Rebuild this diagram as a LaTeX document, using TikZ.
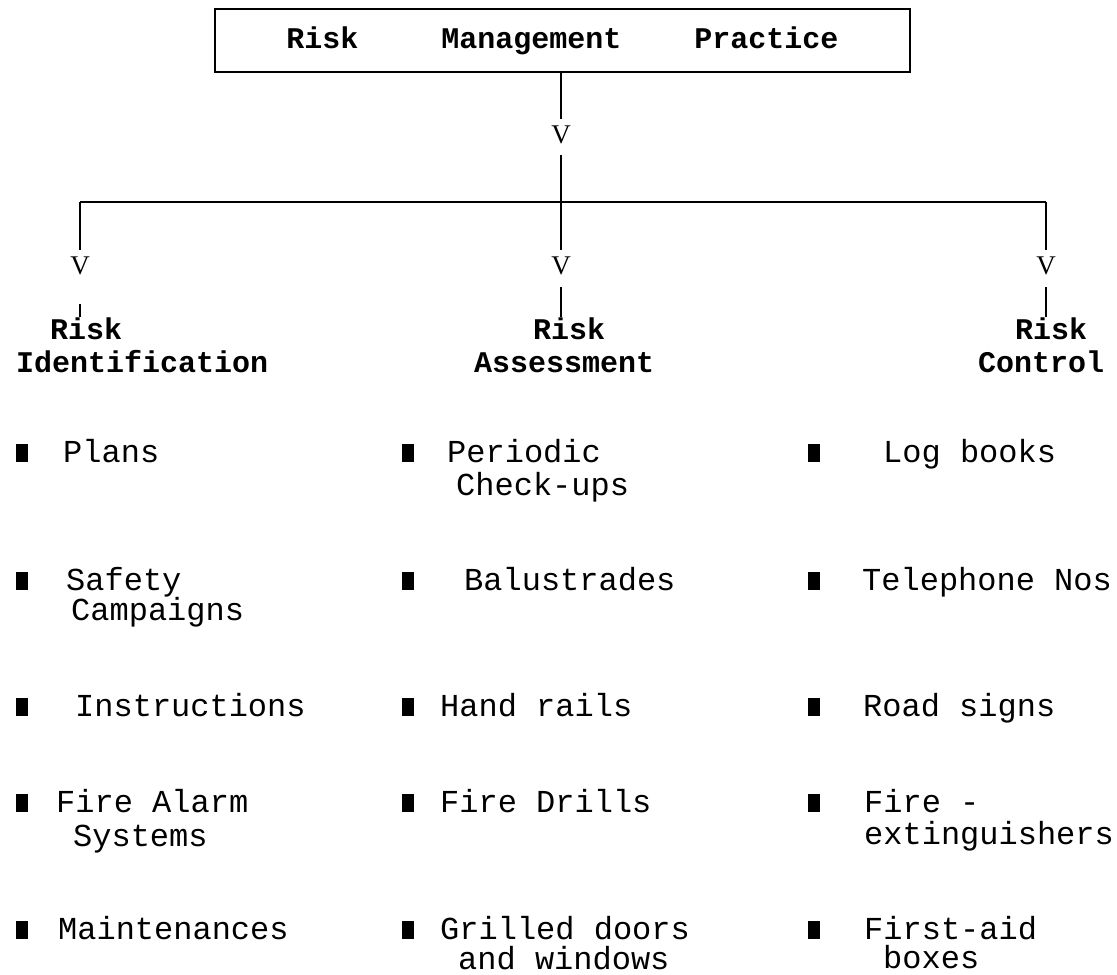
\documentclass[tikz,border=0pt]{standalone}
\usepackage{fontspec}
\setmonofont{Liberation Mono}
\newfontfamily\vglyph{Liberation Serif}

\begin{document}
\begin{tikzpicture}[x=1pt,y=-1pt]

	% Define node styles
	\tikzstyle{title box} = [draw, line width=2.4pt, minimum width=695pt, minimum height=63pt, inner sep=0, font=\ttfamily\bfseries\fontsize{30}{36}\selectfont]
	\tikzstyle{arrow v} = [inner sep=0, font=\vglyph\fontsize{27}{30}\selectfont]
	\tikzstyle{heading} = [anchor=base west, inner sep=0, font=\ttfamily\bfseries\fontsize{30}{36}\selectfont]
	\tikzstyle{item text} = [anchor=base west, inner sep=0, font=\ttfamily\fontsize{32}{38}\selectfont]
	\tikzstyle{bullet} = [fill=black, minimum width=12pt, minimum height=18pt, inner sep=0]
	\tikzstyle{main line} = [line width=2.4pt]
	\tikzstyle{thin line} = [line width=1.2pt]

	\useasboundingbox (0,0) rectangle (1117,975);

	% Top box
	\node[title box] (rmp) at (562.5,40.5) {Risk\hspace{83pt}Management\hspace{73pt}Practice\hspace{11pt}};

	% Arrow heads
	\node[arrow v] (vtop) at (561,135) {V};
	\node[arrow v] (vl) at (80,266) {V};
	\node[arrow v] (vm) at (561,266) {V};
	\node[arrow v] (vr) at (1046,266) {V};

	% Branch points
	\coordinate (barL) at (80,202);
	\coordinate (barR) at (1046,202);
	\coordinate (midbreak) at (561,223);

	% Headings
	\node[heading] (riskid) at (50,339) {Risk};
	\node[heading] (ident) at (16,372) {Identification};
	\node[heading] (riskas) at (533,339) {Risk};
	\node[heading] (assess) at (474,372) {Assessment};
	\node[heading] (riskco) at (1015,339) {Risk};
	\node[heading] (control) at (978,372) {Control};

	% Connectors
	\draw[main line, shorten >=7pt] (vtop.north |- rmp.south) -- (vtop.north);
	\draw[main line, shorten <=11pt] (vtop.south) -- (midbreak);
	\draw[main line] (barL) -- (barR);
	\draw[thin line, shorten >=7pt] (midbreak) -- (vm.north);
	\draw[main line, shorten >=7pt] (barL) -- (vl.north);
	\draw[main line, shorten >=7pt] (barR) -- (vr.north);
	\draw[thin line, shorten <=29pt] (vl.south) -- (vl.south |- riskid.north);
	\draw[thin line, shorten <=12pt] (vm.south) -- (vm.south |- riskas.north);
	\draw[thin line, shorten <=12pt] (vr.south) -- (vr.south |- riskco.north);

	% Bullets
	\foreach \bx in {22,408,814}
		\foreach \by in {453,581,707,803,930}
			\node[bullet] at (\bx,\by) {};

	% Items
	\foreach \name/\ix/\iy/\txt in {
		plans/63/462/Plans,
		safety/66/590/Safety,
		campaigns/71/620/Campaigns,
		instr/75/716/Instructions,
		alarm/56/812/Fire Alarm,
		systems/73/846/Systems,
		maint/58/939/Maintenances,
		periodic/447/462/Periodic,
		checkups/456/495/Check-ups,
		balus/464/590/Balustrades,
		rails/440/716/Hand rails,
		drills/440/812/Fire Drills,
		grilled/440/939/Grilled doors,
		windows/458/969/and windows,
		logbooks/883/462/Log books,
		phone/862/590/Telephone Nos,
		signs/863/716/Road signs,
		fire/864/812/Fire -,
		exting/864/844/extinguishers,
		firstaid/864/939/First-aid,
		boxes/883/968/boxes}
	\node[item text] (\name) at (\ix,\iy) {\txt};

\end{tikzpicture}
\end{document}
